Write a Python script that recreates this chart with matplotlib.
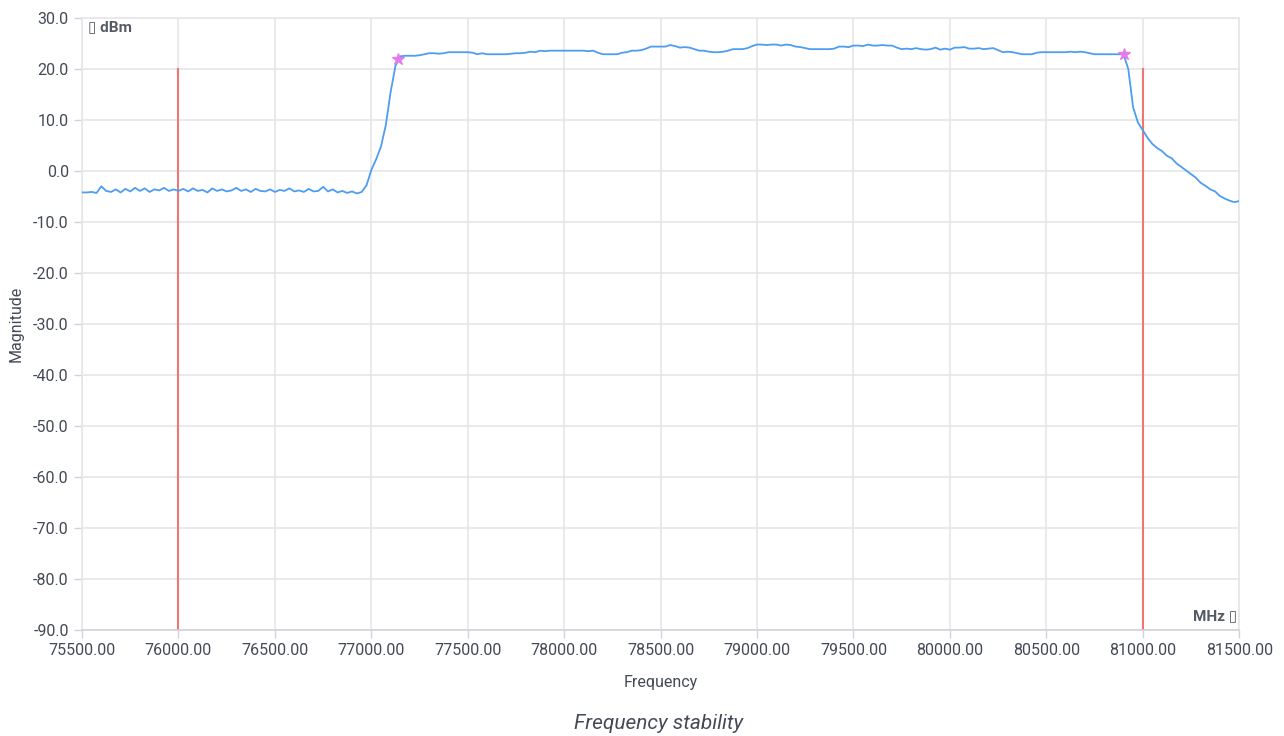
import matplotlib
matplotlib.use("Agg")
import matplotlib.pyplot as plt
import numpy as np

plt.rcParams['font.family'] = ['Roboto', 'DejaVu Sans']

# sweep: 75500 .. 81500 MHz, 25 MHz step
f_start, f_stop, f_step = 75500, 81500, 25

# noise floor before the band
floor_lo = [-4.2, -4.2, -4.1, -4.3, -3.0, -3.9, -4.1, -3.6, -4.2, -3.5,
            -4.0, -3.3, -3.9, -3.4, -4.1, -3.6, -3.8, -3.3, -3.9, -3.6,
            -3.9, -3.5, -4.0, -3.4, -3.9, -3.7, -4.2, -3.4, -3.9, -3.6,
            -4.0, -3.8, -3.3, -3.9, -3.6, -4.1, -3.5, -3.9, -4.0, -3.6,
            -4.1, -3.7, -3.9, -3.4, -4.0, -3.8, -4.1, -3.5, -4.0, -3.9,
            -3.1, -4.0, -3.6, -4.2, -3.9, -4.3, -4.0, -4.4, -4.1]
# rising edge
rise = [-2.8, 0.2, 2.3, 4.8, 9.0, 15.5, 20.6, 22.5]
# pass band 77175 .. 80900
band = [22.6, 22.6, 22.6, 22.7, 22.9, 23.1, 23.1, 23.0, 23.1, 23.3,
        23.3, 23.3, 23.3, 23.3, 23.2, 22.9, 23.1, 22.9, 22.9, 22.9,
        22.9, 22.9, 23.0, 23.1, 23.1, 23.2, 23.4, 23.3, 23.6, 23.5,
        23.6, 23.6, 23.6, 23.6, 23.6, 23.6, 23.6, 23.6, 23.5, 23.6,
        23.2, 22.9, 22.9, 22.9, 22.9, 23.2, 23.3, 23.6, 23.6, 23.7,
        24.0, 24.4, 24.4, 24.4, 24.4, 24.7, 24.5, 24.2, 24.3, 24.2,
        23.9, 23.6, 23.6, 23.4, 23.3, 23.3, 23.4, 23.6, 23.9, 23.9,
        23.9, 24.1, 24.5, 24.8, 24.8, 24.7, 24.8, 24.8, 24.6, 24.8,
        24.7, 24.4, 24.3, 24.1, 23.9, 23.9, 23.9, 23.9, 23.9, 24.0,
        24.4, 24.4, 24.3, 24.6, 24.6, 24.5, 24.8, 24.6, 24.6, 24.7,
        24.6, 24.6, 24.2, 23.9, 24.0, 23.9, 24.1, 23.9, 23.8, 23.9,
        24.2, 23.8, 24.0, 23.8, 24.2, 24.2, 24.3, 24.0, 24.0, 24.1,
        23.9, 24.0, 24.1, 23.7, 23.3, 23.4, 23.3, 23.1, 22.9, 22.9,
        22.9, 23.2, 23.3, 23.3, 23.3, 23.3, 23.3, 23.3, 23.4, 23.3,
        23.4, 23.3, 23.1, 22.9, 22.9, 22.9, 22.9, 22.9, 22.9, 22.9]
# falling edge / roll-off
fall = [20.0, 12.5, 9.5, 8.0, 6.5, 5.3, 4.5, 3.9, 3.0, 2.5,
        1.5, 0.8, 0.1, -0.6, -1.3, -2.3, -2.9, -3.6, -4.0, -4.9,
        -5.4, -5.8, -6.1, -5.9]

magnitude = floor_lo + rise + band + fall
freq = np.arange(f_start, f_stop + 1, f_step)
assert len(freq) == len(magnitude), (len(freq), len(magnitude))

# band edge markers
edge_f = [77140, 80905]
edge_mag = [22.0, 23.0]

# limit lines
limit_f = [76000, 81000]
limit_top = 20
limit_bottom = -90

fig = plt.figure(figsize=(12.84, 7.36), dpi=100)
ax = fig.add_axes([0.0639, 0.144, 0.9012, 0.8315])

grid_c = '#e6e6e6'
ax.set_xlim(75500, 81500)
ax.set_ylim(-90, 30)
ax.set_xticks(np.arange(75500, 81501, 500))
ax.set_yticks(np.arange(-90, 31, 10))
ax.xaxis.set_major_formatter(matplotlib.ticker.FormatStrFormatter('%.2f'))
ax.yaxis.set_major_formatter(matplotlib.ticker.FormatStrFormatter('%.1f'))
ax.grid(True, color=grid_c, linewidth=1.2)
ax.set_axisbelow(True)
for s in ax.spines.values():
    s.set_color(grid_c)
    s.set_linewidth(1.2)
ax.spines['bottom'].set_color('#cfd2d8')
ax.tick_params(axis='both', colors='#cfd2d8', labelcolor='#444a55',
               labelsize=11.5, length=6, width=1)

for lf in limit_f:
    ax.plot([lf, lf], [limit_bottom, limit_top], color='#f07575', linewidth=1.5, zorder=2)

ax.plot(freq, magnitude, color='#4d9df2', linewidth=1.3, zorder=3)
ax.plot(edge_f, edge_mag, linestyle='none', marker='*', markersize=9,
        color='#e47be8', zorder=4)

ax.text(0.005, 0.997, '\u25af dBm', transform=ax.transAxes, ha='left', va='top',
        fontsize=11, fontweight='bold', color='#555b66')
ax.text(0.9985, 0.012, 'MHz \u25af', transform=ax.transAxes, ha='right', va='bottom',
        fontsize=11, fontweight='bold', color='#555b66')

ax.set_xlabel('Frequency', fontsize=11.5, color='#444a55', labelpad=12)
ax.set_ylabel('Magnitude', fontsize=11.5, color='#444a55', labelpad=7)
fig.text(0.513, 0.004, 'Frequency stability', ha='center', va='bottom',
         fontsize=15, style='italic', color='#444a55')

fig.savefig('out.png', dpi=100)
